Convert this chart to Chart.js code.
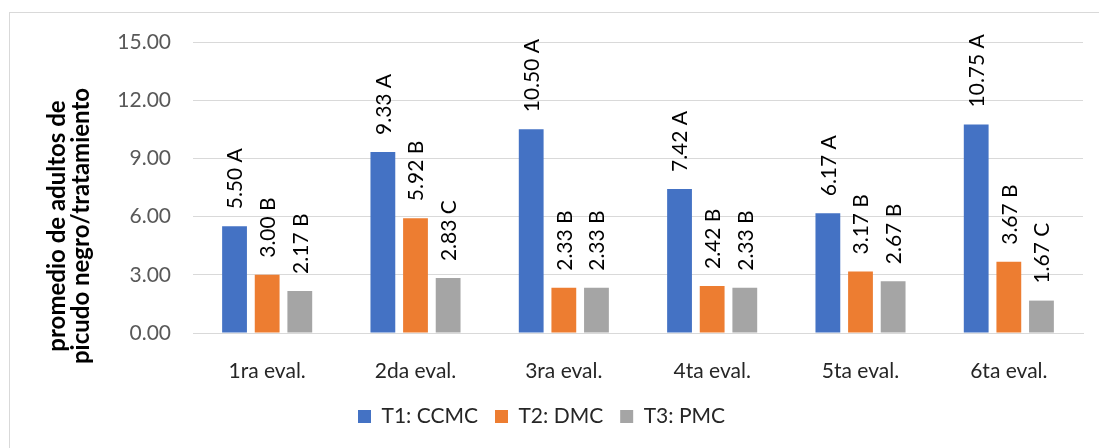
<!DOCTYPE html>
<html>
<head>
<meta charset="utf-8">
<script src="https://cdn.jsdelivr.net/npm/chart.js@4/dist/chart.umd.min.js"></script>
<style>
  html, body { margin: 0; padding: 0; background: #fff; }
  #wrap { width: 1099px; height: 448px; }
</style>
</head>
<body>
<div id="wrap"><canvas id="chart" width="1099" height="448"></canvas></div>
<script>
const categories = ['1ra eval.', '2da eval.', '3ra eval.', '4ta eval.', '5ta eval.', '6ta eval.'];
const seriesNames = ['T1: CCMC', 'T2: DMC', 'T3: PMC'];
const t1Values = [5.50, 9.33, 10.50, 7.42, 6.17, 10.75];
const t2Values = [3.00, 5.92, 2.33, 2.42, 3.17, 3.67];
const t3Values = [2.17, 2.83, 2.33, 2.33, 2.67, 1.67];
const t1Letters = ['A', 'A', 'A', 'A', 'A', 'A'];
const t2Letters = ['B', 'B', 'B', 'B', 'B', 'B'];
const t3Letters = ['B', 'C', 'B', 'B', 'B', 'C'];
const yTitle = ['promedio de adultos de', 'picudo negro/tratamiento'];

const FONT = 'Lato, "Open Sans", sans-serif';
const letters = [t1Letters, t2Letters, t3Letters];

// white background + light frame around the chart
const framePlugin = {
    id: 'frame',
    beforeDraw(chart) {
        const ctx = chart.ctx;
        ctx.save();
        ctx.fillStyle = '#fff';
        ctx.fillRect(0, 0, chart.width, chart.height);
        ctx.strokeStyle = '#d9d9d9';
        ctx.lineWidth = 1;
        ctx.strokeRect(9.5, 12.5, chart.width + 20, chart.height + 20);
        ctx.restore();
    }
};

// rotated value labels above each bar
const valueLabels = {
    id: 'valueLabels',
    afterDatasetsDraw(chart) {
        const ctx = chart.ctx;
        ctx.save();
        ctx.font = '21px ' + FONT;
        ctx.fillStyle = '#000';
        ctx.textAlign = 'left';
        ctx.textBaseline = 'middle';
        chart.data.datasets.forEach((ds, i) => {
            chart.getDatasetMeta(i).data.forEach((bar, j) => {
                const txt = ds.data[j].toFixed(2) + ' ' + letters[i][j];
                ctx.save();
                ctx.translate(bar.x + 1, bar.y - 17);
                ctx.rotate(-Math.PI / 2);
                ctx.fillText(txt, 0, 0);
                ctx.restore();
            });
        });
        ctx.restore();
    }
};

// two-line bold y axis title
const yTitlePlugin = {
    id: 'yTitle',
    afterDraw(chart) {
        const ctx = chart.ctx;
        ctx.save();
        ctx.font = 'bold 24px ' + FONT;
        ctx.fillStyle = '#000';
        ctx.textAlign = 'center';
        ctx.textBaseline = 'middle';
        ctx.translate(69, 226);
        ctx.rotate(-Math.PI / 2);
        ctx.fillText(yTitle[0], 0, -12);
        ctx.fillText(yTitle[1], 0, 12);
        ctx.restore();
    }
};

const ctx = document.getElementById('chart').getContext('2d');
new Chart(ctx, {
    type: 'bar',
    data: {
        labels: categories,
        datasets: [
            { label: seriesNames[0], data: t1Values, backgroundColor: '#4472C4' },
            { label: seriesNames[1], data: t2Values, backgroundColor: '#ED7D31' },
            { label: seriesNames[2], data: t3Values, backgroundColor: '#A5A5A5' }
        ]
    },
    options: {
        responsive: false,
        animation: false,
        devicePixelRatio: 1,
        datasets: {
            bar: { categoryPercentage: 0.66, barPercentage: 0.76 }
        },
        layout: { padding: { top: 42, right: 16, bottom: 11, left: 0 } },
        plugins: {
            tooltip: { enabled: false },
            legend: {
                position: 'bottom',
                labels: {
                    boxWidth: 13,
                    boxHeight: 13,
                    padding: 17,
                    color: '#262626',
                    font: { family: FONT, size: 21 }
                }
            }
        },
        scales: {
            x: {
                grid: { display: false },
                border: { color: '#d9d9d9' },
                ticks: {
                    color: '#262626',
                    padding: 18,
                    font: { family: FONT, size: 21 }
                },
                afterFit(scale) { scale.height = 56; }
            },
            y: {
                min: 0,
                max: 15,
                border: { display: false },
                grid: { color: '#d9d9d9', drawTicks: false },
                ticks: {
                    stepSize: 3,
                    color: '#595959',
                    padding: 22,
                    font: { family: FONT, size: 21 },
                    callback: v => v.toFixed(2)
                },
                afterFit(scale) { scale.width = 193; }
            }
        }
    },
    plugins: [framePlugin, valueLabels, yTitlePlugin]
});
</script>
</body>
</html>
